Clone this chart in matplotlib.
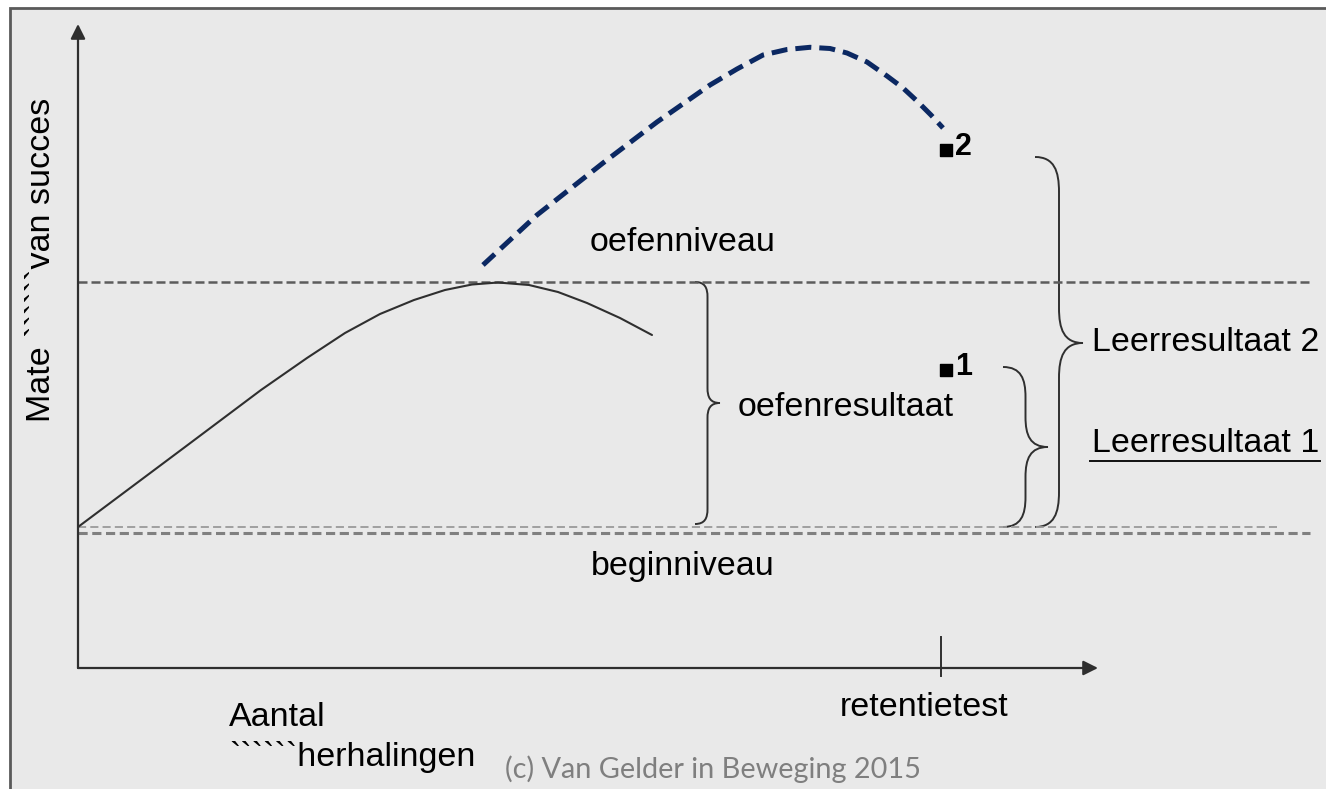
#!/usr/bin/env python3
"""
Leercurve schema: oefenresultaat vs. leerresultaat (retentietest)

- solid line: performance during practice
- dashed navy line: alternative practice route leading to retention score 2
- braces mark oefenresultaat, Leerresultaat 1 and Leerresultaat 2
"""

# ============================================================================
# Config
# ============================================================================

OUTPUT_FILE = "out.png"
FIG_SIZE = (13.26, 7.89)
DPI = 100

# data units: x = repetitions, y = degree of success (origin at axis corner)
X_LIM = (-0.78, 12.48)
Y_LIM = (-1.21, 6.68)

# practice curve (solid)
PRACTICE_X = [0.00, 1.07, 1.83, 2.29, 2.67, 3.02, 3.36, 3.67, 3.94, 4.20,
              4.51, 4.80, 5.09, 5.42, 5.74]
PRACTICE_Y = [1.41, 2.21, 2.78, 3.10, 3.35, 3.54, 3.68, 3.78, 3.835, 3.855,
              3.83, 3.76, 3.65, 3.50, 3.33]

# alternative practice curve (dashed navy)
ALT_X = [4.05, 4.59, 5.25, 5.79, 6.32, 6.59, 6.85, 7.09, 7.32, 7.52, 7.69,
         7.89, 8.09, 8.25, 8.39, 8.53, 8.65]
ALT_Y = [4.03, 4.53, 5.05, 5.46, 5.83, 5.99, 6.13, 6.185, 6.207, 6.195, 6.15,
         6.06, 5.92, 5.80, 5.67, 5.53, 5.40]

# levels
BEGIN_LEVEL = 1.41
BEGIN_LEVEL_LOW = 1.35
PRACTICE_LEVEL = 3.86

# retention test
RETENTION_X = 8.63
RESULT_X = [8.68, 8.68]
RESULT_Y = [2.98, 5.18]
RESULT_LABELS = ["1", "2"]

AXIS_X_END = 10.20
AXIS_Y_END = 6.44

BG_COLOR = "#e9e9e9"
LINE_COLOR = "#2f2f2f"
DASH_COLOR = "#5c5c5c"
NAVY = "#0b2862"
FONT = ["Liberation Sans", "DejaVu Sans"]
FONTSIZE = 24.5

# ============================================================================

import matplotlib.pyplot as plt
from matplotlib.path import Path
from matplotlib.patches import PathPatch, Rectangle


def brace(ax, x0, w, y_top, y_bot, y_tip, r=0.3):
    """Curly brace opening to the left, tip pointing right"""
    xm = x0 + w * 0.5
    xt = x0 + w
    verts = [
        (x0, y_top),
        (x0 + (xm - x0) * 0.8, y_top), (xm, y_top - r * 0.4), (xm, y_top - r),
        (xm, y_tip + r),
        (xm, y_tip + r * 0.4), (xm + (xt - xm) * 0.2, y_tip), (xt, y_tip),
        (xm + (xt - xm) * 0.2, y_tip), (xm, y_tip - r * 0.4), (xm, y_tip - r),
        (xm, y_bot + r),
        (xm, y_bot + r * 0.4), (x0 + (xm - x0) * 0.8, y_bot), (x0, y_bot),
    ]
    codes = [Path.MOVETO] + [Path.CURVE4] * 3 + [Path.LINETO] + [Path.CURVE4] * 6 \
        + [Path.LINETO] + [Path.CURVE4] * 3
    ax.add_patch(PathPatch(Path(verts, codes), fill=False, edgecolor=LINE_COLOR, lw=1.4))


def main():
    plt.rcParams["font.family"] = FONT
    fig = plt.figure(figsize=FIG_SIZE, dpi=DPI, facecolor="white")
    ax = fig.add_axes([0, 0, 1, 1])
    ax.set_xlim(*X_LIM)
    ax.set_ylim(*Y_LIM)
    ax.axis("off")

    # panel background with frame (right/bottom edges fall outside the figure)
    ax.add_patch(Rectangle((-0.68, -1.6), 14.0, 8.20, facecolor=BG_COLOR,
                           edgecolor="#5a5a5a", lw=2.0, zorder=0))

    # axes with arrows
    arrow = dict(arrowstyle="-|>", color=LINE_COLOR, lw=1.6, mutation_scale=22,
                 shrinkA=0, shrinkB=0)
    ax.annotate("", xy=(0, AXIS_Y_END), xytext=(0, 0), arrowprops=arrow)
    ax.annotate("", xy=(AXIS_X_END, 0), xytext=(0, 0), arrowprops=arrow)
    ax.plot([RETENTION_X, RETENTION_X], [-0.08, 0.31], color=LINE_COLOR, lw=1.4)

    # reference levels
    ax.plot([0, 12.32], [PRACTICE_LEVEL] * 2, color=DASH_COLOR, lw=1.8, dashes=(3.6, 1.6))
    ax.plot([0, 11.99], [BEGIN_LEVEL] * 2, color="#9a9a9a", lw=1.3, dashes=(4.5, 2.3))
    ax.plot([0, 12.32], [BEGIN_LEVEL_LOW] * 2, color="#808080", lw=2.2, dashes=(3.0, 1.5))

    # curves
    ax.plot(PRACTICE_X, PRACTICE_Y, color=LINE_COLOR, lw=1.5,
            solid_capstyle="round", solid_joinstyle="round")
    ax.plot(ALT_X, ALT_Y, color=NAVY, lw=3.6, dashes=(3.2, 1.6))

    # retention results
    ax.scatter(RESULT_X, RESULT_Y, marker="s", s=75, color="black", zorder=5)
    for x, y, lab in zip(RESULT_X, RESULT_Y, RESULT_LABELS):
        ax.text(x + 0.09, y + 0.03, lab, fontsize=22, fontweight="bold",
                ha="left", va="center")

    # braces
    brace(ax, 6.17, 0.25, PRACTICE_LEVEL, BEGIN_LEVEL + 0.03, 2.65, r=0.15)
    brace(ax, 9.25, 0.45, 3.01, BEGIN_LEVEL, 2.21, r=0.3)
    brace(ax, 9.57, 0.48, 5.11, BEGIN_LEVEL, 3.25, r=0.35)

    # labels
    ax.text(6.05, 4.25, "oefenniveau", fontsize=FONTSIZE, ha="center", va="center")
    ax.text(6.05, 1.02, "beginniveau", fontsize=FONTSIZE, ha="center", va="center")
    ax.text(6.60, 2.61, "oefenresultaat", fontsize=FONTSIZE, ha="left", va="center")
    ax.text(10.14, 3.25, "Leerresultaat 2", fontsize=FONTSIZE, ha="left", va="center")
    ax.text(10.14, 2.24, "Leerresultaat 1", fontsize=FONTSIZE, ha="left", va="center")
    ax.plot([10.12, 12.42], [2.07, 2.07], color="#111111", lw=1.4)
    ax.text(8.46, -0.40, "retentietest", fontsize=FONTSIZE, ha="center", va="center")
    ax.text(1.51, -0.49, "Aantal", fontsize=FONTSIZE, ha="left", va="center")
    ax.text(1.51, -0.89, "``````herhalingen", fontsize=FONTSIZE, ha="left", va="center")
    ax.text(-0.36, 4.08, "Mate ``````van succes", fontsize=FONTSIZE, rotation=90,
            ha="center", va="center")
    ax.text(4.27, -1.01, "(c) Van Gelder in Beweging 2015", fontsize=20.8,
            family=["Lato", "DejaVu Sans"], color="#7f7f7f", ha="left", va="center")

    fig.savefig(OUTPUT_FILE, dpi=DPI, facecolor=fig.get_facecolor())
    plt.close(fig)


if __name__ == "__main__":
    main()
